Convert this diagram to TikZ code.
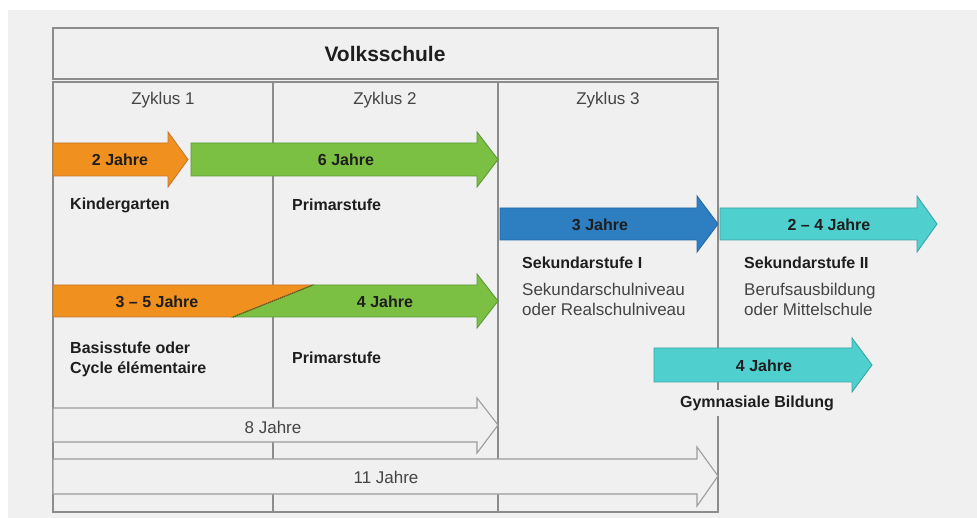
\documentclass[tikz,border=0pt]{standalone}
\usepackage{fontspec}
\setmainfont{Liberation Sans}
\definecolor{papier}{HTML}{F0F0F0}
\definecolor{rahmen}{HTML}{8C8C8C}
\definecolor{orangehell}{HTML}{F0901E}
\definecolor{orangedunkel}{HTML}{C4782E}
\definecolor{gruenhell}{HTML}{7BC043}
\definecolor{gruendunkel}{HTML}{5A9A35}
\definecolor{blauhell}{HTML}{2E7EC2}
\definecolor{blaudunkel}{HTML}{2468A6}
\definecolor{tuerkishell}{HTML}{50CFCF}
\definecolor{tuerkisdunkel}{HTML}{3AA5A5}
\definecolor{schrift}{HTML}{1E1E1E}
\definecolor{grauschrift}{HTML}{444444}
\begin{document}
\begin{tikzpicture}[x=1pt,y=-1pt,
        linie/.style={draw=rahmen,line width=1.4pt},
        orangepfeil/.style={fill=orangehell,draw=orangedunkel,line width=0.9pt},
        gruenpfeil/.style={fill=gruenhell,draw=gruendunkel,line width=0.9pt},
        blaupfeil/.style={fill=blauhell,draw=blaudunkel,line width=0.9pt},
        tuerkispfeil/.style={fill=tuerkishell,draw=tuerkisdunkel,line width=0.9pt},
        leerpfeil/.style={fill=papier,draw=rahmen!85,line width=1.1pt},
        fett/.style={font={\fontsize{16}{20}\selectfont\bfseries},text=schrift,inner sep=0pt},
        normal/.style={font={\fontsize{17}{20}\selectfont},text=grauschrift,inner sep=0pt}]
        \fill[white] (0,0) rectangle (977,518);
        \fill[papier] (8,10) rectangle (977,518);
        \useasboundingbox (0,0) rectangle (977,518);
        % Raster
        \draw[linie] (53,28) rectangle (718,79);
        \draw[linie] (53,82) rectangle (718,512);
        \draw[linie] (273,82) -- (273,512);
        \draw[linie] (498,82) -- (498,512);
        % Pfeile
        \draw[orangepfeil] (53,143) -- (168,143) -- (168,132) -- (188,159.5) -- (168,187) -- (168,176) -- (53,176) -- cycle;
        \draw[gruenpfeil] (191,143) -- (477,143) -- (477,132) -- (498,159.5) -- (477,187) -- (477,176) -- (191,176) -- cycle;
        \draw[blaupfeil] (500,208) -- (697,208) -- (697,196) -- (718,224) -- (697,252) -- (697,240) -- (500,240) -- cycle;
        \draw[tuerkispfeil] (720,208) -- (917,208) -- (917,196) -- (937,224) -- (917,252) -- (917,240) -- (720,240) -- cycle;
        \draw[orangepfeil] (53,285) -- (313,285) -- (233,317) -- (53,317) -- cycle;
        \draw[gruenpfeil] (313,285) -- (477,285) -- (477,274) -- (498,301) -- (477,328) -- (477,317) -- (233,317) -- cycle;
        \draw[orangedunkel!60!black,line width=1.2pt,densely dotted] (233,317) -- (313,285);
        \draw[tuerkispfeil] (654,348) -- (852,348) -- (852,338) -- (872,365) -- (852,392) -- (852,382) -- (654,382) -- cycle;
        \draw[leerpfeil] (53,408) -- (477,408) -- (477,398) -- (498,425) -- (477,453) -- (477,442) -- (53,442) -- cycle;
        \draw[leerpfeil] (53,459) -- (697,459) -- (697,447) -- (718,476) -- (697,506) -- (697,494) -- (53,494) -- cycle;
        % Texte
        \node[fett,font={\fontsize{21}{24}\selectfont\bfseries}] (volk) at (385,54) {Volksschule};
        \begin{scope}[every node/.style={normal}]
            \node (z1) at (163,100) {Zyklus 1};
            \node (z2) at (385,100) {Zyklus 2};
            \node (z3) at (608,100) {Zyklus 3};
            \node (j8) at (273,427) {8 Jahre};
            \node (j11) at (386,477) {11 Jahre};
            \node[anchor=west,align=left] (sekI) at (522,299) {Sekundarschulniveau\\oder Realschulniveau};
            \node[anchor=west,align=left] (sekII) at (744,299) {Berufsausbildung\\oder Mittelschule};
        \end{scope}
        \begin{scope}[every node/.style={fett}]
            \node (kg2) at (120,160) {2 Jahre};
            \node (ps6) at (346,160) {6 Jahre};
            \node (s3) at (600,225) {3 Jahre};
            \node (s24) at (829,225) {2 – 4 Jahre};
            \node (bs35) at (157,302) {3 – 5 Jahre};
            \node (ps4) at (385,302) {4 Jahre};
            \node (gy4) at (764,366) {4 Jahre};
            \node[anchor=west] (kg) at (70,205) {Kindergarten};
            \node[anchor=west] (psa) at (292,205) {Primarstufe};
            \node[anchor=west] (sekIt) at (522,263) {Sekundarstufe I};
            \node[anchor=west] (sekIIt) at (744,263) {Sekundarstufe II};
            \node[anchor=west,align=left] (bs) at (70,359) {Basisstufe oder\\Cycle élémentaire};
            \node[anchor=west] (psb) at (292,358) {Primarstufe};
            \node[fill=papier,inner xsep=3pt,inner ysep=6pt] (gy) at (757,403) {Gymnasiale Bildung};
        \end{scope}
    \end{tikzpicture}
\end{document}
